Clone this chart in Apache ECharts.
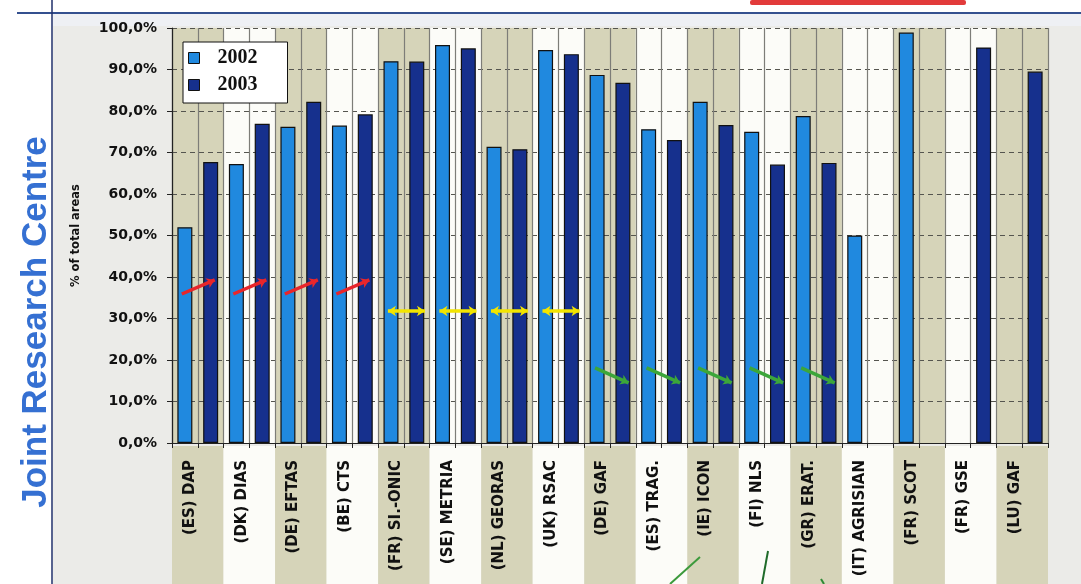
<!DOCTYPE html>
<html>
<head>
<meta charset="utf-8">
<script src="https://cdn.jsdelivr.net/npm/echarts@6/dist/echarts.min.js"></script>
<style>
  html, body { margin: 0; padding: 0; background: #ffffff; }
  #chart { width: 1081px; height: 584px; }
</style>
</head>
<body>
<div id="chart"></div>
<script>
// Contractors (country code + company)
const contractors = [
  '(ES) DAP', '(DK) DIAS', '(DE) EFTAS', '(BE) CTS', '(FR) SI.-ONIC', '(SE) METRIA',
  '(NL) GEORAS', '(UK) RSAC', '(DE) GAF', '(ES) TRAG.', '(IE) ICON', '(FI) NLS',
  '(GR) ERAT.', '(IT) AGRISIAN', '(FR) SCOT', '(FR) GSE', '(LU) GAF'
];

// Share of total areas (%) per campaign year; null = contractor not active that year
const share2002 = [52.0, 67.2, 76.2, 76.5, 92.0, 95.9, 71.4, 94.7, 88.7, 75.6, 82.2, 75.0, 78.8, 50.0, 98.9, null, null];
const share2003 = [67.7, 76.9, 82.2, 79.2, 91.9, 95.1, 70.8, 93.7, 86.8, 73.0, 76.6, 67.1, 67.5, null, null, 95.3, 89.5];

const seriesNames = ['2002', '2003'];

// Trend markers drawn over the bars: contractor indexes for each kind
const risingIdx  = [0, 1, 2, 3];
const stableIdx  = [4, 5, 6, 7];
const fallingIdx = [8, 9, 10, 11, 12];

// Arrow geometry relative to the category centre (x in category units, y in %)
const risingArrow  = { x0: -0.31, y0: 35.9, x1: 0.33, y1: 39.3 };
const stableArrow  = { x0: -0.31, y0: 31.8, x1: 0.41, y1: 31.8 };
const fallingArrow = { x0: -0.29, y0: 18.1, x1: 0.36, y1: 14.5 };

function arrowData(idx, a) {
  return idx.map(i => ({ coords: [[i + 0.5 + a.x0, a.y0], [i + 0.5 + a.x1, a.y1]] }));
}

const LEFT = 172, RIGHT = 33, TOP = 28, BOTTOM = 141;
const tan = '#d6d4b9';
const white = '#fcfcf8';

const chart = echarts.init(document.getElementById('chart'), null, { renderer: 'canvas' });

chart.setOption({
  backgroundColor: '#ffffff',
  animation: false,
  graphic: [
    // scanned page backdrop
    { type: 'rect', z: -10, shape: { x: 53, y: 14, width: 1028, height: 570 }, style: { fill: '#ebebe8' } },
    { type: 'rect', z: -10, shape: { x: 53, y: 14, width: 1028, height: 12 }, style: { fill: '#eef0f4' } },
    // header rule and margin rule
    { type: 'line', z: 10, shape: { x1: 17, y1: 13, x2: 1081, y2: 13 }, style: { stroke: '#34508f', lineWidth: 2 } },
    { type: 'line', z: 10, shape: { x1: 52, y1: 0, x2: 52, y2: 584 }, style: { stroke: '#1f2f6a', lineWidth: 1.5 } },
    // red header tag
    { type: 'rect', z: 10, shape: { x: 750, y: 0, width: 216, height: 5, r: 2 }, style: { fill: '#e23b3b' } },
    // margin banner
    {
      type: 'text', z: 10, x: 36, y: 322, rotation: Math.PI / 2,
      style: {
        text: 'Joint Research Centre',
        font: 'bold 35px "Liberation Sans", Arial, sans-serif',
        fill: '#3570d2', align: 'center', verticalAlign: 'middle'
      }
    },
    // hand-drawn pointers at the bottom edge
    { type: 'line', z: 10, shape: { x1: 670, y1: 584, x2: 700, y2: 557 }, style: { stroke: '#3c9a3c', lineWidth: 2 } },
    { type: 'line', z: 10, shape: { x1: 768, y1: 551, x2: 762, y2: 584 }, style: { stroke: '#1f6b2a', lineWidth: 2 } },
    { type: 'line', z: 10, shape: { x1: 821, y1: 579, x2: 824, y2: 584 }, style: { stroke: '#2f8a35', lineWidth: 2 } }
  ],
  legend: {
    data: seriesNames,
    orient: 'vertical',
    left: 183,
    top: 42,
    backgroundColor: '#ffffff',
    borderColor: '#111111',
    borderWidth: 1,
    padding: [4, 30, 6, 5],
    itemWidth: 11,
    itemHeight: 11,
    itemGap: 3,
    icon: 'rect',
    itemStyle: { borderColor: '#111111', borderWidth: 1 },
    textStyle: {
      fontFamily: '"Liberation Serif", "Times New Roman", serif',
      fontWeight: 'bold',
      fontSize: 20,
      color: '#111111',
      lineHeight: 24,
      padding: [0, 0, 0, 13]
    }
  },
  grid: [
    { left: LEFT, right: RIGHT, top: TOP, bottom: BOTTOM, containLabel: false },
    { left: LEFT, right: RIGHT, top: 446, bottom: 0, containLabel: false }
  ],
  xAxis: [
    { // category bands behind the bars
      type: 'category', gridIndex: 0, data: contractors, z: 0,
      axisLine: { show: false }, axisTick: { show: false }, axisLabel: { show: false },
      splitLine: { show: false },
      splitArea: { show: true, interval: 0, areaStyle: { color: [tan, white] } }
    },
    { // half-category frame: vertical rules and ticks
      type: 'value', gridIndex: 0, min: 0, max: 17, interval: 0.5, position: 'bottom', z: 1,
      axisLine: { show: true, onZero: false, lineStyle: { color: '#222222', width: 1.2 } },
      axisTick: { show: true, length: 5, lineStyle: { color: '#222222' } },
      axisLabel: { show: false },
      splitLine: { show: true, lineStyle: { color: '#7d7d78', width: 1.2 } }
    },
    { // category bands under the labels
      type: 'category', gridIndex: 1, data: contractors, z: 0,
      axisLine: { show: false }, axisTick: { show: false }, axisLabel: { show: false },
      splitLine: { show: false },
      splitArea: { show: true, interval: 0, areaStyle: { color: [tan, white] } }
    },
    { // contractor labels
      type: 'category', gridIndex: 0, data: contractors, position: 'bottom', z: 1,
      axisLine: { show: false }, axisTick: { show: false },
      splitLine: { show: false }, splitArea: { show: false },
      axisLabel: {
        interval: 0, rotate: 90, margin: 17, verticalAlign: 'bottom',
        fontFamily: '"DejaVu Sans", sans-serif', fontWeight: 'bold', fontSize: 15,
        color: '#111111'
      }
    }
  ],
  yAxis: [
    {
      type: 'value', gridIndex: 0, min: 0, max: 100, interval: 10, z: 1,
      name: '% of total areas',
      nameLocation: 'middle',
      nameGap: 90,
      nameRotate: 90,
      nameTextStyle: { fontFamily: '"DejaVu Sans", sans-serif', fontWeight: 'bold', fontSize: 11.5, color: '#111111' },
      axisLine: { show: true, lineStyle: { color: '#222222', width: 1.2 } },
      axisTick: { show: true, length: 5, lineStyle: { color: '#222222' } },
      axisLabel: {
        margin: 15,
        formatter: v => v.toFixed(1).replace('.', ',') + '%',
        fontFamily: '"DejaVu Sans", sans-serif', fontWeight: 'bold', fontSize: 14, color: '#111111'
      },
      splitLine: { show: true, lineStyle: { color: '#55554f', width: 1.2, type: [5, 4] } }
    },
    { type: 'value', gridIndex: 1, min: 0, max: 1, show: false }
  ],
  series: [
    {
      name: '2002', type: 'bar', xAxisIndex: 0, yAxisIndex: 0, z: 2,
      data: share2002, barWidth: 15, barGap: '72%',
      itemStyle: { color: '#2089df', borderColor: '#111111', borderWidth: 1.2 }
    },
    {
      name: '2003', type: 'bar', xAxisIndex: 0, yAxisIndex: 0, z: 2,
      data: share2003, barWidth: 15, barGap: '72%',
      itemStyle: { color: '#16308d', borderColor: '#111111', borderWidth: 1.2 }
    },
    {
      type: 'lines', coordinateSystem: 'cartesian2d', xAxisIndex: 1, yAxisIndex: 0, z: 5,
      symbol: ['none', 'arrow'], symbolSize: 8,
      lineStyle: { color: '#e8262b', width: 3.5, opacity: 1 },
      data: arrowData(risingIdx, risingArrow)
    },
    {
      type: 'lines', coordinateSystem: 'cartesian2d', xAxisIndex: 1, yAxisIndex: 0, z: 5,
      symbol: ['arrow', 'arrow'], symbolSize: 8,
      lineStyle: { color: '#f3e500', width: 3.5, opacity: 1 },
      data: arrowData(stableIdx, stableArrow)
    },
    {
      type: 'lines', coordinateSystem: 'cartesian2d', xAxisIndex: 1, yAxisIndex: 0, z: 5,
      symbol: ['none', 'arrow'], symbolSize: 8,
      lineStyle: { color: '#3ca63a', width: 3.5, opacity: 1 },
      data: arrowData(fallingIdx, fallingArrow)
    }
  ]
});
</script>
</body>
</html>
